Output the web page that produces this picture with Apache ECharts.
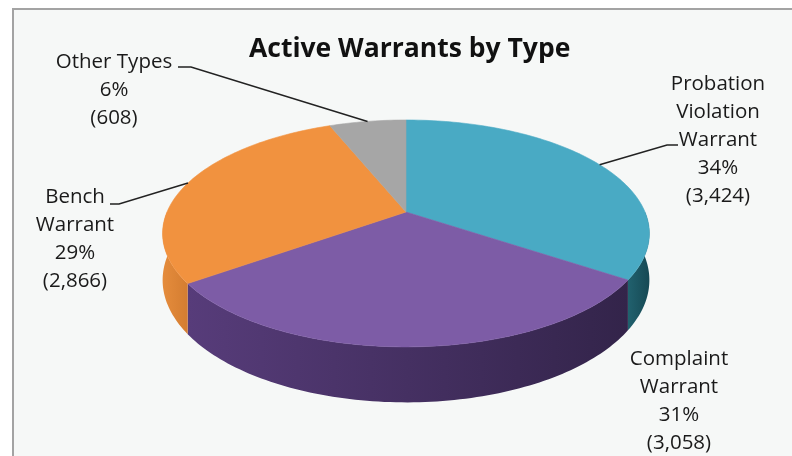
<!DOCTYPE html>
<html>
<head>
<meta charset="utf-8">
<script src="https://cdn.jsdelivr.net/npm/echarts@6/dist/echarts.min.js"></script>
<style>
html, body { margin: 0; padding: 0; background: #fff; }
#main { width: 792px; height: 456px; }
</style>
</head>
<body>
<div id="main"></div>
<script>
// data
var categories = ['Probation Violation Warrant', 'Complaint Warrant', 'Bench Warrant', 'Other Types'];
var counts = [3424, 3058, 2866, 608];
var labelText = ['Probation\nViolation\nWarrant', 'Complaint\nWarrant', 'Bench\nWarrant', 'Other Types'];

// styles
var topColors = ['#49aac4', '#7d5ca6', '#f1923f', '#a6a6a6'];
var sideColors = [['#21616e', '#164954'], ['#573c7a', '#33244a'], ['#e58c3c', '#d47d31'], ['#8a8a8a', '#777777']];
// label block centre x / top y, and leader elbow (null = no leader)
var labelPos = [[718, 70], [679, 345], [75, 183], [114, 48]];
var elbows = [[[678, 145], [667, 145]], null, [[110, 204], [119, 204]], [[178, 67], [191, 67]]];

// fake perspective of the pie
var CX = 406, CY = 212, RX = 239, RY = 109.4, K = 0.189, H = 45;
var total = counts.reduce(function (a, b) { return a + b; }, 0);

function proj(t, drop) {
    var d = -Math.cos(t);
    var s = 1 / (1 - K * d);
    return [CX + RX * Math.sin(t) * s, CY + (RY * d + drop) * s];
}

function arc(a0, a1, drop) {
    var pts = [];
    var n = Math.max(2, Math.ceil((a1 - a0) / 0.02));
    for (var k = 0; k <= n; k++) {
        pts.push(proj(a0 + (a1 - a0) * k / n, drop));
    }
    return pts;
}

function renderItem(params, api) {
    var i = params.dataIndex;
    var before = 0;
    for (var j = 0; j < i; j++) before += counts[j];
    var val = api.value(0);
    var a0 = before / total * 2 * Math.PI;
    var a1 = (before + val) / total * 2 * Math.PI;
    var children = [];

    // outer side, only the near half shows
    var s0 = Math.max(a0, Math.PI / 2), s1 = Math.min(a1, Math.PI * 1.5);
    if (s1 > s0) {
        var up = arc(s0, s1, 0);
        var down = arc(s0, s1, H).reverse();
        children.push({
            type: 'polygon',
            z2: 1,
            shape: { points: up.concat(down) },
            style: {
                fill: new echarts.graphic.LinearGradient(0, 0, 1, 0, [
                    { offset: 0, color: sideColors[i][0] },
                    { offset: 1, color: sideColors[i][1] }
                ])
            }
        });
    }

    // top face
    var pts = [[CX, CY]].concat(arc(a0, a1, 0));
    children.push({
        type: 'polygon',
        z2: 5,
        shape: { points: pts },
        style: { fill: topColors[i], stroke: topColors[i], lineWidth: 0.6 }
    });

    // label
    var pct = Math.round(val / total * 100) + '%';
    var txt = labelText[i] + '\n' + pct + '\n(' + val.toLocaleString('en-US') + ')';
    children.push({
        type: 'text',
        z2: 10,
        style: {
            text: txt,
            x: labelPos[i][0],
            y: labelPos[i][1],
            align: 'center',
            verticalAlign: 'top',
            fontFamily: 'Open Sans',
            fontSize: 20.5,
            lineHeight: 28,
            fill: '#1a1a1a'
        }
    });

    // leader line to the middle of the slice edge
    if (elbows[i]) {
        var mid = proj((a0 + a1) / 2, 0);
        children.push({
            type: 'polyline',
            z2: 10,
            shape: { points: [elbows[i][0], elbows[i][1], mid] },
            style: { stroke: '#222', lineWidth: 1.5, fill: null }
        });
    }

    return { type: 'group', children: children };
}

var myChart = echarts.init(document.getElementById('main'));
var option = {
    backgroundColor: '#fff',
    animation: false,
    title: {
        text: 'Active Warrants by Type',
        left: 244,
        top: 31,
        textStyle: {
            fontFamily: 'Open Sans',
            fontSize: 26.5,
            fontWeight: 'bold',
            color: '#111'
        }
    },
    graphic: [{
        type: 'rect',
        z: -1,
        left: 12,
        top: 8,
        shape: { width: 800, height: 470 },
        style: { fill: '#f6f8f7', stroke: '#a3a3a3', lineWidth: 2 }
    }],
    series: [{
        name: 'Active Warrants',
        type: 'custom',
        coordinateSystem: 'none',
        silent: true,
        renderItem: renderItem,
        data: counts.map(function (v, i) { return { name: categories[i], value: [v] }; })
    }]
};
myChart.setOption(option);
</script>
</body>
</html>
